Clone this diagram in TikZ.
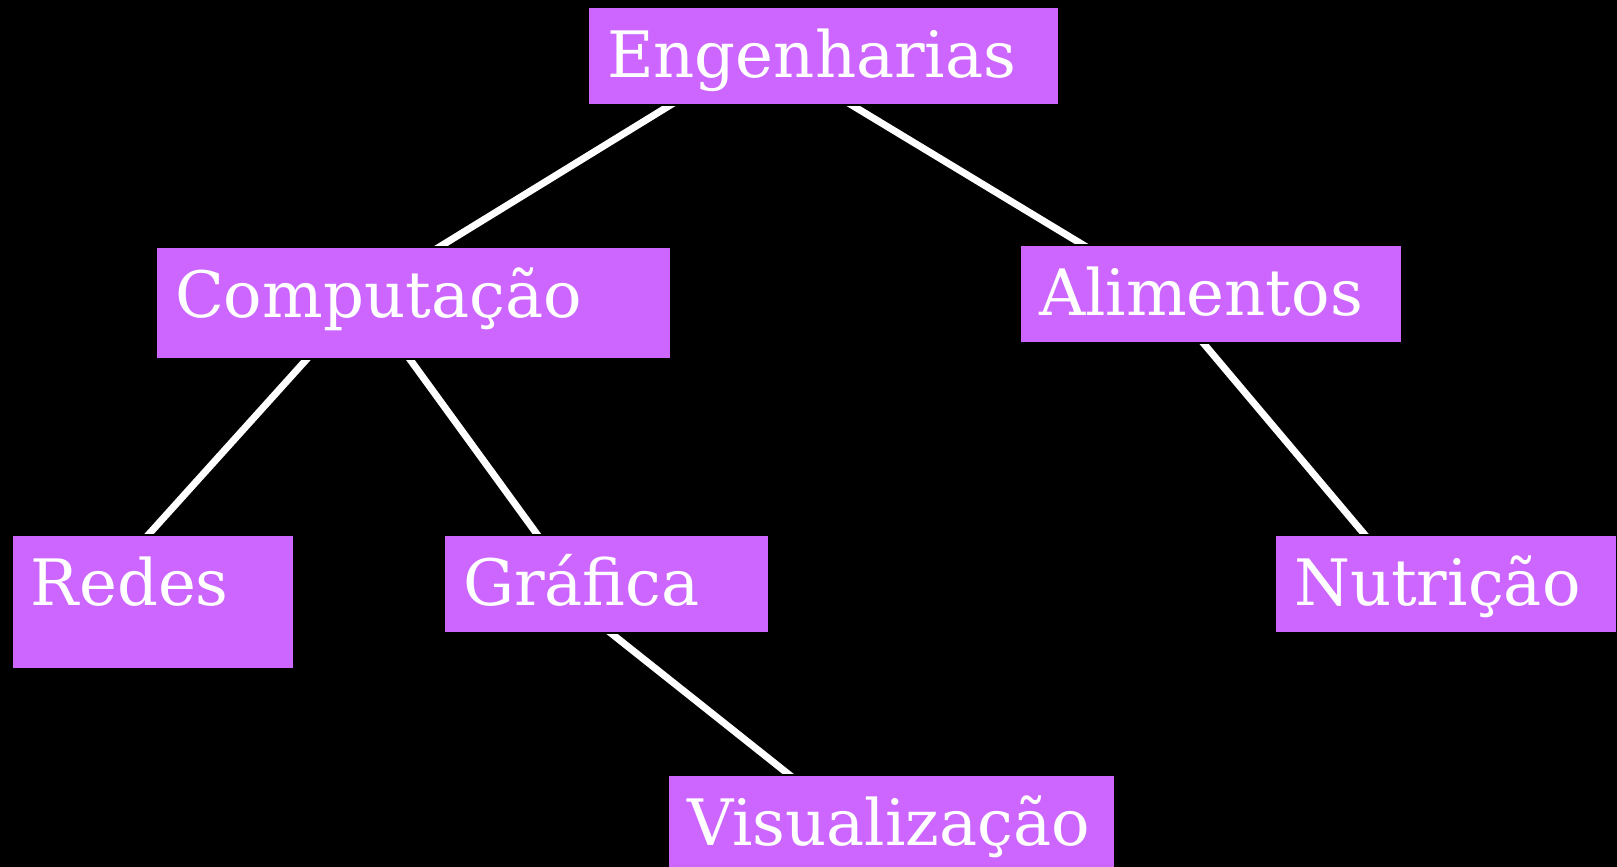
\documentclass[tikz,border=0pt]{standalone}
\usepackage{fontspec}
\setmainfont{DejaVu Serif}
\usetikzlibrary{calc,backgrounds}
\definecolor{boxpurple}{RGB}{204,102,255}
\hyphenpenalty=10000
\tikzset{
  topic/.style={draw=black, line width=1pt, fill=boxpurple, text=white,
    anchor=north west, align=left, font=\fontsize{32}{38}\selectfont,
    inner xsep=9.5pt, inner ysep=0pt, text height=35pt, text depth=14pt},
  link/.style={draw=white, line width=3.5pt, shorten <=-4pt, shorten >=-4pt}
}
\begin{document}
\begin{tikzpicture}[x=0.5pt, y=-0.5pt]
\useasboundingbox (0,0) rectangle (1617,867);

\node[topic, text width=216.5pt] (eng) at (587,6) {Engenharias};
\node[topic, text width=238.5pt, text depth=21pt] (comp) at (155,246) {Computação};
\node[topic, text width=172pt] (alim) at (1019,244) {Alimentos};
\node[topic, text width=122pt, text depth=32pt] (redes) at (11,534) {Redes};
\node[topic, text width=143.5pt] (graf) at (443,534) {Gráfica};
\node[topic, text width=152pt] (nutr) at (1274,534) {Nutrição};
\node[topic, text width=204.5pt] (vis) at (667,774) {Visualização};

\begin{scope}[on background layer]
\fill[black] (0,0) rectangle (1617,867);
\draw[link] ($(eng.south west)!0.173!(eng.south east)$) -- ($(comp.north west)!0.553!(comp.north east)$);
\draw[link] ($(eng.south west)!0.563!(eng.south east)$) -- ($(alim.north west)!0.163!(alim.north east)$);
\draw[link] ($(comp.south west)!0.292!(comp.south east)$) -- ($(redes.north west)!0.486!(redes.north east)$);
\draw[link] ($(comp.south west)!0.494!(comp.south east)$) -- ($(graf.north west)!0.287!(graf.north east)$);
\draw[link] ($(alim.south west)!0.482!(alim.south east)$) -- ($(nutr.north west)!0.262!(nutr.north east)$);
\draw[link] ($(graf.south west)!0.517!(graf.south east)$) -- ($(vis.north west)!0.270!(vis.north east)$);
\end{scope}
\end{tikzpicture}
\end{document}
